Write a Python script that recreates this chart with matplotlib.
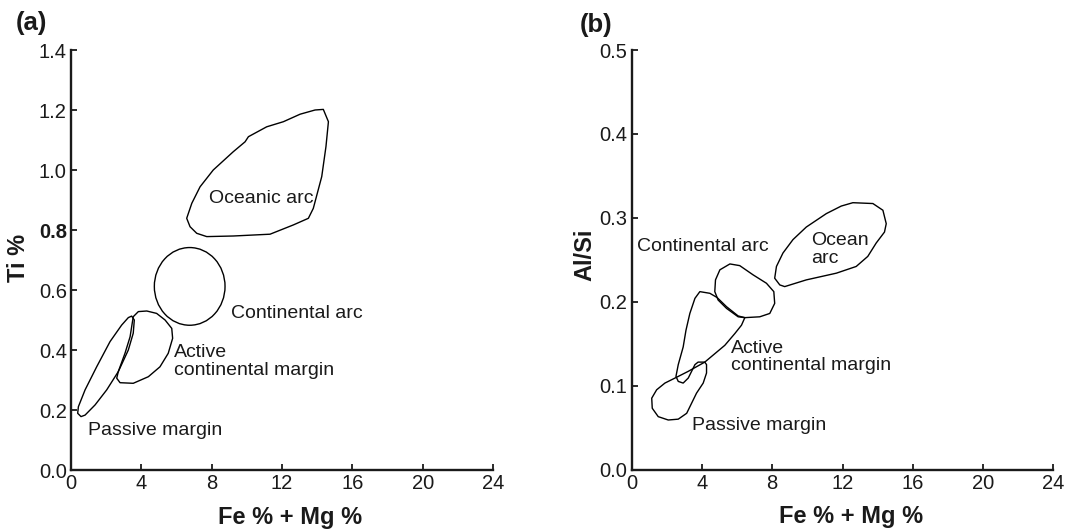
import matplotlib
matplotlib.use("Agg")
import matplotlib.pyplot as plt
from matplotlib.patches import Polygon, Ellipse
import numpy as np

plt.rcParams['font.family'] = ['Liberation Sans', 'DejaVu Sans']

# ---------------- (a) Ti % vs Fe % + Mg % ----------------
a_oceanic_x = [14.35, 14.64, 14.50, 14.26, 13.78, 13.50, 12.65, 11.32, 9.23, 7.72, 7.15,
               6.77, 6.58, 6.87, 7.34, 8.09, 9.23, 9.90, 10.09, 11.13, 12.08, 13.03, 13.88]
a_oceanic_y = [1.202, 1.161, 1.078, 0.978, 0.872, 0.839, 0.817, 0.786, 0.780, 0.778, 0.789,
               0.811, 0.839, 0.889, 0.944, 1.000, 1.061, 1.094, 1.111, 1.144, 1.161, 1.186, 1.200]

# continental arc field: centre (x, y) and full width / height
a_cont_arc_centre = (6.75, 0.612)
a_cont_arc_size = (4.02, 0.259)

a_active_x = [3.54, 3.83, 4.31, 4.87, 5.35, 5.73, 5.78, 5.53, 5.06, 4.40, 3.54,
              2.79, 2.60, 2.69, 3.07, 3.36]
a_active_y = [0.511, 0.528, 0.530, 0.522, 0.500, 0.472, 0.439, 0.389, 0.344, 0.311, 0.289,
              0.291, 0.306, 0.328, 0.389, 0.444]

a_passive_x = [3.45, 3.60, 3.54, 3.26, 2.69, 2.03, 1.37, 0.80, 0.57, 0.38, 0.42,
               0.80, 1.46, 2.22, 2.88, 3.26]
a_passive_y = [0.513, 0.500, 0.456, 0.400, 0.328, 0.267, 0.217, 0.183, 0.178, 0.189, 0.211,
               0.267, 0.344, 0.428, 0.483, 0.508]

a_labels = ["Oceanic arc", "Continental arc", "Active\ncontinental margin", "Passive margin"]
a_label_x = [7.85, 9.10, 5.86, 0.99]
a_label_y = [0.906, 0.522, 0.362, 0.133]

a_xticks = [0, 4, 8, 12, 16, 20, 24]
a_yticks = [0.0, 0.2, 0.4, 0.6, 0.8, 1.0, 1.2, 1.4]

# ---------------- (b) Al/Si vs Fe % + Mg % ----------------
b_ocean_x = [12.59, 13.73, 14.30, 14.49, 14.39, 13.92, 13.44, 12.78, 11.65, 9.94, 8.71,
             8.43, 8.14, 8.24, 8.61, 9.18, 9.94, 11.08, 11.93]
b_ocean_y = [0.318, 0.317, 0.309, 0.293, 0.283, 0.270, 0.254, 0.242, 0.234, 0.226, 0.218,
             0.220, 0.228, 0.242, 0.258, 0.274, 0.289, 0.305, 0.314]

b_cont_x = [5.59, 6.15, 6.91, 7.67, 8.09, 8.14, 7.86, 7.29, 6.44, 6.06, 5.40,
            4.92, 4.73, 4.77, 5.02]
b_cont_y = [0.245, 0.243, 0.232, 0.222, 0.212, 0.198, 0.186, 0.182, 0.181, 0.182, 0.192,
            0.202, 0.212, 0.226, 0.238]

b_active_x = [3.88, 4.45, 4.86, 5.40, 6.06, 6.44, 6.25, 5.87, 5.30, 4.16, 3.78,
              3.60, 3.41, 3.22, 2.93, 2.65, 2.52, 2.65, 2.93, 3.09, 3.31, 3.60]
b_active_y = [0.212, 0.210, 0.205, 0.194, 0.183, 0.181, 0.172, 0.162, 0.148, 0.128, 0.128,
              0.125, 0.117, 0.109, 0.103, 0.105, 0.111, 0.125, 0.146, 0.166, 0.186, 0.204]

b_passive_x = [4.16, 4.26, 4.26, 4.07, 3.69, 3.41, 3.13, 2.65, 2.08, 1.51, 1.17,
               1.14, 1.42, 1.89, 2.56, 3.22]
b_passive_y = [0.128, 0.125, 0.115, 0.103, 0.091, 0.079, 0.067, 0.060, 0.059, 0.063, 0.073,
               0.085, 0.095, 0.103, 0.110, 0.117]

b_labels = ["Ocean\narc", "Continental arc", "Active\ncontinental margin", "Passive margin"]
b_label_x = [10.19, 0.32, 5.63, 3.41]
b_label_y = [0.2625, 0.266, 0.134, 0.053]

b_xticks = [0, 4, 8, 12, 16, 20, 24]
b_yticks = [0.0, 0.1, 0.2, 0.3, 0.4, 0.5]

INK = "#1a1a1a"
TICK_FS = 14.5
NOTE_FS = 14
LABEL_FS = 17

fig = plt.figure(figsize=(10.71, 5.32), dpi=100)
ax_a = fig.add_axes([71 / 1071, 1 - 470 / 532, 422 / 1071, 420 / 532])
ax_b = fig.add_axes([631.7 / 1071, 1 - 469.5 / 532, 421.6 / 1071, 419.5 / 532])


def style_axes(ax, xticks, yticks, ylim, ylabel, ylabel_x, ylabel_y):
    ax.set_xlim(0, 24)
    ax.set_ylim(*ylim)
    for side in ("top", "right"):
        ax.spines[side].set_visible(False)
    for side in ("left", "bottom"):
        ax.spines[side].set_linewidth(1.7)
        ax.spines[side].set_color(INK)
    ax.set_xticks(xticks)
    ax.set_xticklabels([str(t) for t in xticks])
    ax.set_yticks(yticks)
    ax.set_yticklabels([f"{t:.1f}" for t in yticks])
    ax.tick_params(direction="in", length=4.5, width=1.3, colors=INK,
                   labelsize=TICK_FS, pad=3)
    ax.set_xlabel("Fe % + Mg %", fontsize=LABEL_FS, fontweight="bold",
                  color=INK, va="center")
    ax.xaxis.set_label_coords(0.52, -0.112)
    ax.set_ylabel(ylabel, fontsize=LABEL_FS, fontweight="bold", color=INK,
                  va="center")
    ax.yaxis.set_label_coords(ylabel_x, ylabel_y)


def outline(ax, xs, ys):
    ax.add_patch(Polygon(np.column_stack([xs, ys]), closed=True, fill=False,
                         edgecolor="black", linewidth=1.0, joinstyle="round"))


def notes(ax, labels, xs, ys):
    for s, x, y in zip(labels, xs, ys):
        ax.text(x, y, s, fontsize=NOTE_FS, color=INK, ha="left", va="center",
                linespacing=1.05)


# panel (a)
style_axes(ax_a, a_xticks, a_yticks, (0, 1.4), "Ti %", -0.125, 0.505)
for lab in ax_a.get_yticklabels():
    if lab.get_text() == "0.8":
        lab.set_fontweight("bold")
outline(ax_a, a_oceanic_x, a_oceanic_y)
ax_a.add_patch(Ellipse(a_cont_arc_centre, a_cont_arc_size[0], a_cont_arc_size[1],
                       fill=False, edgecolor="black", linewidth=1.0))
outline(ax_a, a_active_x, a_active_y)
outline(ax_a, a_passive_x, a_passive_y)
notes(ax_a, a_labels, a_label_x, a_label_y)

# panel (b)
style_axes(ax_b, b_xticks, b_yticks, (0, 0.5), "Al/Si", -0.111, 0.511)
outline(ax_b, b_ocean_x, b_ocean_y)
outline(ax_b, b_cont_x, b_cont_y)
outline(ax_b, b_active_x, b_active_y)
outline(ax_b, b_passive_x, b_passive_y)
notes(ax_b, b_labels, b_label_x, b_label_y)

fig.text(16 / 1071, 1 - 23 / 532, "(a)", fontsize=18.5, fontweight="bold",
         color=INK, ha="left", va="center")
fig.text(580 / 1071, 1 - 25 / 532, "(b)", fontsize=18.5, fontweight="bold",
         color=INK, ha="left", va="center")

fig.savefig("out.png", dpi=100, facecolor="white")
